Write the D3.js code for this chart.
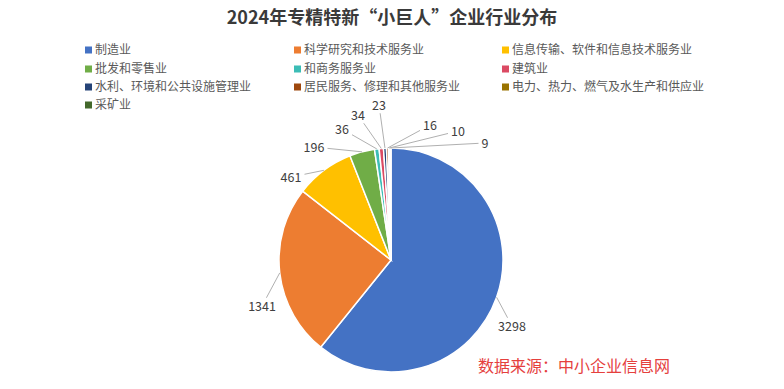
<!DOCTYPE html>
<html>
<head>
<meta charset="utf-8">
<script src="https://cdn.jsdelivr.net/npm/d3@7"></script>
<style>
  body { margin: 0; background: #fff; }
  text { font-family: "Noto Sans CJK SC", "Noto Sans", sans-serif; }
</style>
</head>
<body>
<div id="chart"></div>
<script>
// industries, clockwise from 12 o'clock
const categories = ["制造业", "科学研究和技术服务业", "信息传输、软件和信息技术服务业", "批发和零售业",
    "和商务服务业", "建筑业", "水利、环境和公共设施管理业", "居民服务、修理和其他服务业",
    "电力、热力、燃气及水生产和供应业", "采矿业"];
const counts = [3298, 1341, 461, 196, 36, 34, 23, 16, 10, 9];
const colors = ["#4472C4", "#ED7D31", "#FFC000", "#70AD47", "#3CBDB6", "#DB4A63",
    "#264478", "#9E480E", "#997300", "#43682B"];

// where each value label sits, relative to the pie centre
const labelOffsets = [[121, 66], [-129, 46], [-100, -83], [-77, -113], [-49, -131],
    [-33, -145], [-12, -155], [39, -135], [67, -129], [94, -117]];

const width = 784, height = 389;
const cx = 391, cy = 260, r = 112;

const svg = d3.select("#chart").append("svg")
    .attr("width", width)
    .attr("height", height);

svg.append("text")
    .attr("x", 392)
    .attr("y", 24)
    .attr("text-anchor", "middle")
    .attr("font-size", 18)
    .attr("font-weight", "bold")
    .attr("fill", "#3a3a3a")
    .text("2024年专精特新“小巨人”企业行业分布");

// legend, 3 columns
const colX = [85, 294, 502];
const rowY = [50, 69, 87, 105];
const legend = svg.append("g")
    .selectAll("g")
    .data(categories)
    .enter().append("g")
    .attr("transform", (d, i) => `translate(${colX[i % 3]},${rowY[Math.floor(i / 3)]})`);
legend.append("rect")
    .attr("x", 0).attr("y", -3.5)
    .attr("width", 7).attr("height", 7)
    .attr("fill", (d, i) => colors[i]);
legend.append("text")
    .attr("x", 10)
    .attr("y", 0)
    .attr("dy", "0.36em")
    .attr("font-size", 12)
    .attr("fill", "#595959")
    .text(d => d);

const pie = d3.pie().sort(null).value(d => d);
const arcs = pie(counts);
const arc = d3.arc().innerRadius(0).outerRadius(r);

const g = svg.append("g").attr("transform", `translate(${cx},${cy})`);

g.selectAll("path")
    .data(arcs)
    .enter().append("path")
    .attr("d", arc)
    .attr("fill", (d, i) => colors[i])
    .attr("stroke", "#fff")
    .attr("stroke-width", 1.5);

// labels + leader lines
const fs = 12.5;
arcs.forEach((a, i) => {
    const [lx, ly] = labelOffsets[i];
    const mid = (a.startAngle + a.endAngle) / 2;
    const sx = Math.sin(mid) * r, sy = -Math.cos(mid) * r;
    const w = String(counts[i]).length * fs * 0.56 / 2 + 3, h = fs / 2 + 2;
    // clip the line from label centre toward the slice at the label box
    const dx = sx - lx, dy = sy - ly;
    const t = Math.min(w / Math.abs(dx || 1e-6), h / Math.abs(dy || 1e-6));
    const ex = lx + dx * t, ey = ly + dy * t;
    g.append("line")
        .attr("x1", sx).attr("y1", sy)
        .attr("x2", ex).attr("y2", ey)
        .attr("stroke", "#b0b0b0")
        .attr("stroke-width", 1);
    g.append("text")
        .attr("x", lx)
        .attr("y", ly)
        .attr("dy", "0.36em")
        .attr("text-anchor", "middle")
        .attr("font-size", fs)
        .attr("fill", "#404040")
        .text(counts[i]);
});

svg.append("text")
    .attr("x", 478)
    .attr("y", 372)
    .attr("font-size", 16)
    .attr("fill", "#E5403D")
    .text("数据来源：中小企业信息网");
</script>
</body>
</html>
